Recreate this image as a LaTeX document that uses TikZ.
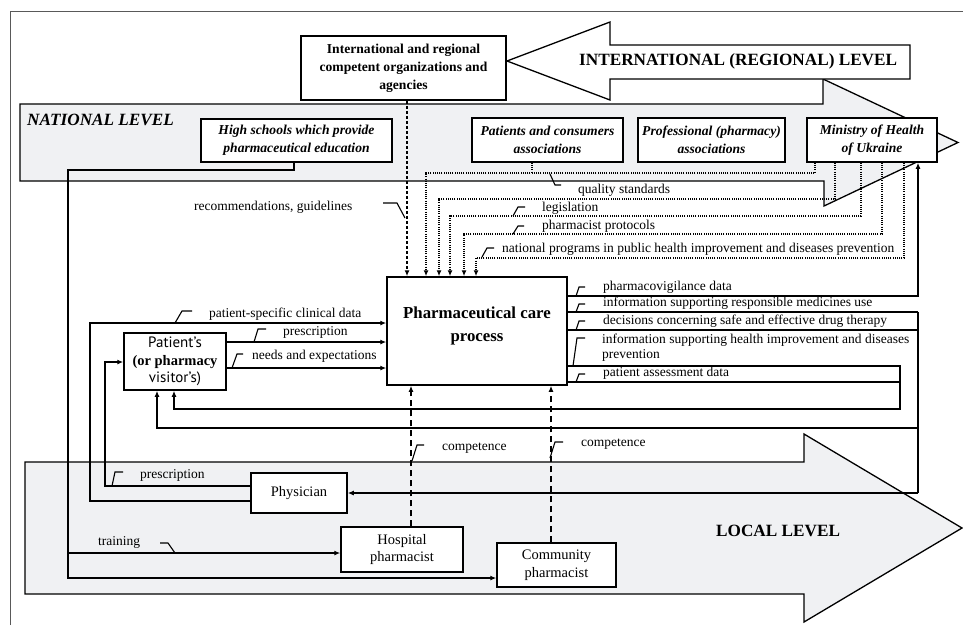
\documentclass[tikz,border=0pt]{standalone}
\usepackage{fontspec}
\setmainfont{Liberation Serif}
\newfontfamily\psans{PT Sans}
\usetikzlibrary{arrows.meta}
\definecolor{lvl}{RGB}{240,241,243}
\newcommand\fsL{\fontsize{13.5}{15.5}\selectfont}
\newcommand\fsB{\fontsize{13.6}{18}\selectfont}
\newcommand\fsR{\fontsize{14.5}{17.5}\selectfont}
\newcommand\fsC{\fontsize{16.8}{23}\selectfont}
\newcommand\fsT{\fontsize{17.2}{20}\selectfont}
\begin{document}
\begin{tikzpicture}[x=1pt,y=-1pt,
  box/.style={draw, line width=1.5pt, fill=white, inner sep=0pt, align=center},
  lbl/.style={inner sep=0pt, anchor=west, font=\fsL},
  conn/.style={line width=1.3pt},
  dotl/.style={line width=1.3pt, dash pattern=on 1.1pt off 1.1pt},
  dsh/.style={line width=1.3pt, dash pattern=on 3pt off 2pt},
  dshl/.style={line width=1.3pt, dash pattern=on 6pt off 4pt},
  arrowend/.style={-{Latex[length=6pt,width=5pt]}},
  tickmark/.style={line width=1.1pt},
  lvlarrow/.style={draw, line width=1.3pt, fill=lvl},
  lvltext/.style={inner sep=0pt, anchor=west, font=\fsT\bfseries},
]
\useasboundingbox (0,0) rectangle (963,625);
\draw[line width=0.8pt, black!65] (10,625) -- (10,11) -- (963,11);

% level arrows
\draw[lvlarrow] (20,104) -- (823,104) -- (823,79) -- (958,142.5) -- (824,206) -- (824,181) -- (20,181) -- cycle;
\draw[lvlarrow, fill=white] (507,61) -- (610,22) -- (610,45) -- (910,45) -- (910,79) -- (610,79) -- (610,100) -- cycle;
\draw[lvlarrow] (25,462) -- (804,462) -- (804,434) -- (962,528) -- (804,622) -- (804,594) -- (25,594) -- cycle;

\node[lvltext, font=\fsT\bfseries\itshape] (natl) at (27,120) {NATIONAL LEVEL};
\node[lvltext] (intll) at (579,61) {INTERNATIONAL (REGIONAL) LEVEL};
\node[lvltext] (locl) at (716,531) {LOCAL LEVEL};

% boxes
\node[box, minimum width=205pt, minimum height=64pt, font=\fsB\bfseries] (intl) at (403.5,68)
  {International and regional\\competent organizations and\\agencies};
\node[box, minimum width=191pt, minimum height=43pt, font=\fsB\bfseries\itshape] (hs) at (296.5,140.5)
  {High schools which provide\\pharmaceutical education};
\node[box, minimum width=151pt, minimum height=44pt, font=\fsB\bfseries\itshape] (pca) at (547.5,140)
  {Patients and consumers\\associations};
\node[box, minimum width=147pt, minimum height=44pt, font=\fsB\bfseries\itshape] (ppa) at (711.5,140)
  {Professional (pharmacy)\\associations};
\node[box, minimum width=130pt, minimum height=44pt, font=\fsB\bfseries\itshape] (moh) at (872,140)
  {Ministry of Health\\of Ukraine};
\node[box, minimum width=180pt, minimum height=108pt, font=\fsC\bfseries] (care) at (477,331)
  {Pharmaceutical care\\process\\[-9pt]};
\node[box, minimum width=102pt, minimum height=57pt, font=\fsR] (patient) at (175,361.5)
  {{\psans\fontsize{15}{17}\selectfont Patient’s}\\{\bfseries (or pharmacy}\\{\psans\fontsize{15}{17}\selectfont visitor’s)}};
\node[box, minimum width=96pt, minimum height=40pt, font=\fsR] (phys) at (299,493) {Physician};
\node[box, minimum width=122pt, minimum height=45pt, font=\fsR] (hosp) at (402,549.5) {Hospital\\pharmacist};
\node[box, minimum width=119pt, minimum height=44pt, font=\fsR] (comm) at (556.5,565) {Community\\pharmacist};

% coordinates
\coordinate (r1) at (407,200);
\coordinate (m1) at (815,173); \coordinate (q1) at (426,173); \coordinate (pa) at (532,173);
\coordinate (m2) at (835,199); \coordinate (q2) at (439,199);
\coordinate (m3) at (861,216); \coordinate (q3) at (450,216);
\coordinate (m4) at (882,234); \coordinate (q4) at (464,234);
\coordinate (m5) at (904,258); \coordinate (q5) at (476,258);
\coordinate (pv) at (918,296);
\coordinate (b1) at (918,312); \coordinate (b2) at (918,330);
\coordinate (b3) at (918,428); \coordinate (b4) at (918,493);
\coordinate (p1) at (157,428);
\coordinate (c1) at (900,366); \coordinate (c2) at (900,382); \coordinate (c3) at (900,409);
\coordinate (p2) at (174,409);
\coordinate (d1) at (90,501); \coordinate (d2) at (90,323);
\coordinate (e1) at (105,486); \coordinate (e2) at (105,362);
\coordinate (f1) at (300,342); \coordinate (f2) at (300,368);
\coordinate (h0) at (294,170); \coordinate (h1) at (68,170);
\coordinate (h2) at (68,553); \coordinate (h3) at (68,578);
\coordinate (k1) at (411,500); \coordinate (k2) at (551,500);

% inputs from top
\draw[dsh, arrowend] (intl.south -| r1) -- (r1 |- care.north);
\draw[dotl, arrowend] (moh.south -| m1) -- (m1) -- (q1) -- (q1 |- care.north);
\draw[dotl] (pca.south -| pa) -- (pa);
\draw[dotl, arrowend] (moh.south -| m2) -- (m2) -- (q2) -- (q2 |- care.north);
\draw[dotl, arrowend] (moh.south -| m3) -- (m3) -- (q3) -- (q3 |- care.north);
\draw[dotl, arrowend] (moh.south -| m4) -- (m4) -- (q4) -- (q4 |- care.north);
\draw[dotl, arrowend] (moh.south -| m5) -- (m5) -- (q5) -- (q5 |- care.north);

% outputs
\draw[conn, arrowend] (care.east |- pv) -- (pv) -- (pv |- moh.south);
\draw[conn] (care.east |- b1) -- (b1);
\draw[conn] (care.east |- b2) -- (b2);
\draw[conn] (b1) -- (b4);
\draw[conn, arrowend] (b3) -- (p1) -- (p1 |- patient.south);
\draw[conn, arrowend] (b4) -- (phys.east);
\draw[conn] (care.east |- c2) -- (c2);
\draw[conn, arrowend] (care.east |- c1) -- (c1) -- (c3) -- (p2) -- (p2 |- patient.south);

% left inputs
\draw[conn, arrowend] (phys.west |- d1) -- (d1) -- (d2) -- (care.west |- d2);
\draw[conn, arrowend] (phys.west |- e1) -- (e1) -- (e2) -- (patient.west |- e2);
\draw[conn, arrowend] (patient.east |- f1) -- (care.west |- f1);
\draw[conn, arrowend] (patient.east |- f2) -- (care.west |- f2);

% education
\draw[conn, arrowend] (hs.south -| h0) -- (h0) -- (h1) -- (h3) -- (comm.west |- h3);
\draw[conn, arrowend] (h2) -- (hosp.west |- h2);

% competence
\draw[dshl, arrowend] (hosp.north -| k1) -- (k1 |- care.south);
\draw[dshl, arrowend] (comm.north -| k2) -- (k2 |- care.south);

% tick marks
\draw[tickmark] (383,203) -- (397,203) -- (405,218);
\draw[tickmark] (550,174) -- (555,185) -- (561,185);
\draw[tickmark] (513,216) -- (518,207) -- (525,207);
\draw[tickmark] (513,234) -- (518,226) -- (524,226);
\draw[tickmark] (482,257) -- (487,248) -- (494,248);
\draw[tickmark] (576,296) -- (579,287) -- (585,287);
\draw[tickmark] (576,312) -- (579,304) -- (585,304);
\draw[tickmark] (576,330) -- (579,321) -- (585,321);
\draw[tickmark] (573,366) -- (577,338) -- (585,338);
\draw[tickmark] (576,382) -- (579,374) -- (585,374);
\draw[tickmark] (175,323) -- (182,311) -- (192,311);
\draw[tickmark] (254,342) -- (258,329) -- (266,329);
\draw[tickmark] (232,368) -- (237,354) -- (243,354);
\draw[tickmark] (112,486) -- (115,472) -- (123,472);
\draw[tickmark] (160,543) -- (168,543) -- (175,553);
\draw[tickmark] (412,461) -- (417,445) -- (424,445);
\draw[tickmark] (550,458) -- (555,442) -- (563,442);

% labels
\node[lbl] (lrec) at (194,207) {recommendations, guidelines};
\node[lbl] (lqs) at (578,190) {quality standards};
\node[lbl] (lleg) at (542,208) {legislation};
\node[lbl] (lpp) at (542,226) {pharmacist protocols};
\node[lbl] (lnp) at (502,249) {national programs in public health improvement and diseases prevention};
\node[lbl] (lpv) at (603,287) {pharmacovigilance data};
\node[lbl] (lir) at (603,303.5) {information supporting responsible medicines use};
\node[lbl] (ldec) at (603,321) {decisions concerning safe and effective drug therapy};
\node[lbl, align=left] (lih) at (602,347.5) {information supporting health improvement and diseases\\prevention};
\node[lbl] (lpa) at (603,373) {patient assessment data};
\node[lbl] (lpsc) at (209,314) {patient-specific clinical data};
\node[lbl] (lpr1) at (283,332) {prescription};
\node[lbl] (lne) at (252,356) {needs and expectations};
\node[lbl] (lpr2) at (140,475) {prescription};
\node[lbl] (ltr) at (98,542) {training};
\node[lbl] (lco1) at (442,448) {competence};
\node[lbl] (lco2) at (581,444) {competence};
\end{tikzpicture}
\end{document}
